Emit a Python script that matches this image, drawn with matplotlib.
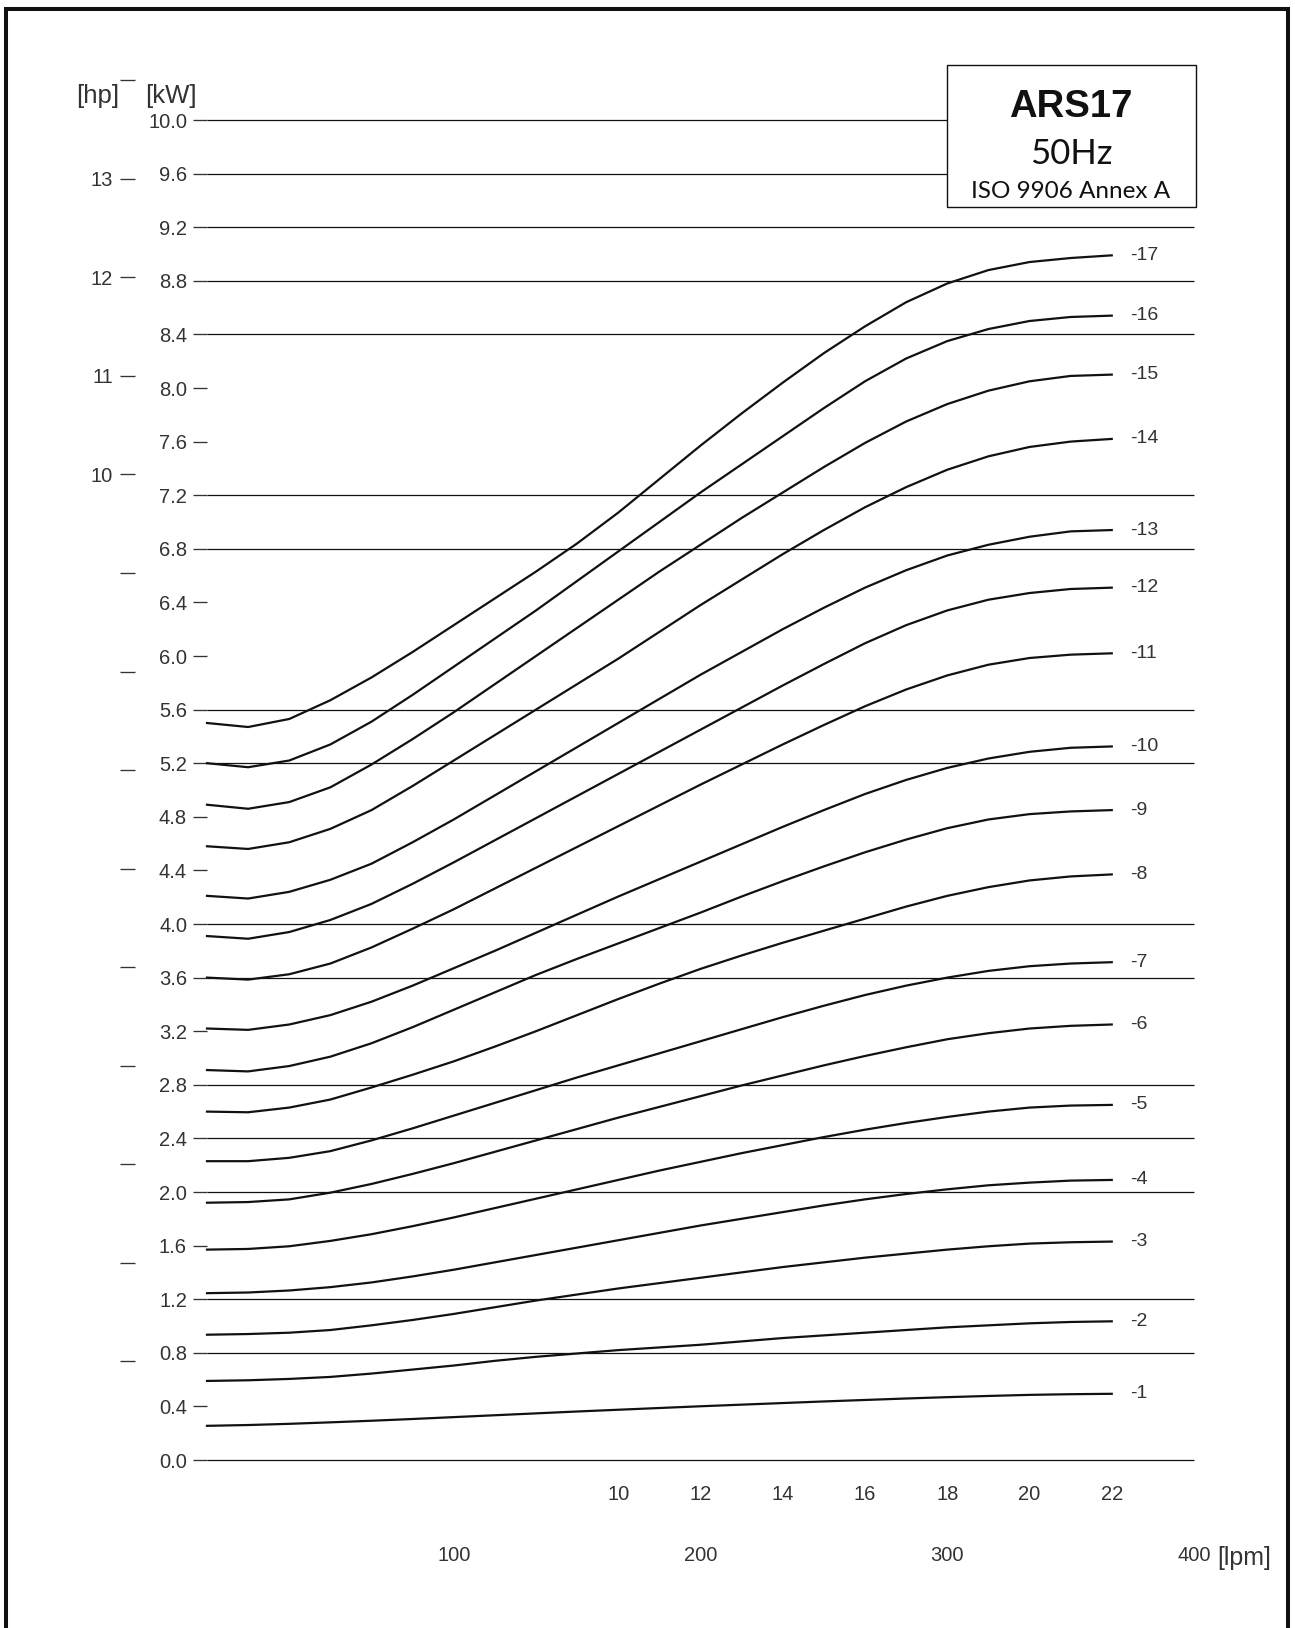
import matplotlib
matplotlib.use('Agg')
import numpy as np
import matplotlib.pyplot as plt
from matplotlib.patches import Rectangle
from matplotlib.lines import Line2D

plt.rcParams['font.family'] = ['Liberation Sans', 'DejaVu Sans']

W, H, DPI = 1295, 1628, 100
KW_PER_HP = 0.7355

# flow [m3/h] where the curves were read
flow_m3h = list(range(0, 23))

# shaft power [kW] per number of stages, read at flow_m3h
p01 = [0.255, 0.261, 0.270, 0.281, 0.293, 0.306, 0.320, 0.334, 0.348, 0.362, 0.375, 0.388,
       0.401, 0.413, 0.425, 0.437, 0.448, 0.459, 0.469, 0.478, 0.486, 0.491, 0.494]
p02 = [0.590, 0.595, 0.605, 0.620, 0.645, 0.675, 0.705, 0.740, 0.770, 0.795, 0.820, 0.840,
       0.860, 0.885, 0.910, 0.930, 0.950, 0.970, 0.990, 1.005, 1.020, 1.030, 1.035]
p03 = [0.935, 0.940, 0.950, 0.970, 1.005, 1.045, 1.090, 1.140, 1.190, 1.235, 1.280, 1.320,
       1.360, 1.400, 1.440, 1.475, 1.510, 1.540, 1.570, 1.595, 1.615, 1.625, 1.630]
p04 = [1.245, 1.250, 1.265, 1.290, 1.325, 1.370, 1.420, 1.475, 1.530, 1.585, 1.640, 1.695,
       1.750, 1.800, 1.850, 1.900, 1.945, 1.985, 2.020, 2.050, 2.070, 2.085, 2.090]
p05 = [1.570, 1.575, 1.595, 1.635, 1.685, 1.745, 1.810, 1.880, 1.950, 2.020, 2.090, 2.160,
       2.225, 2.290, 2.350, 2.410, 2.465, 2.515, 2.560, 2.600, 2.630, 2.645, 2.650]
p06 = [1.920, 1.925, 1.945, 1.995, 2.060, 2.135, 2.215, 2.300, 2.385, 2.470, 2.555, 2.635,
       2.715, 2.795, 2.870, 2.945, 3.015, 3.080, 3.140, 3.185, 3.220, 3.240, 3.250]
p07 = [2.230, 2.230, 2.255, 2.305, 2.385, 2.475, 2.570, 2.665, 2.760, 2.855, 2.945, 3.035,
       3.125, 3.215, 3.305, 3.390, 3.470, 3.540, 3.600, 3.650, 3.685, 3.705, 3.715]
p08 = [2.600, 2.595, 2.630, 2.690, 2.780, 2.875, 2.975, 3.085, 3.200, 3.320, 3.440, 3.555,
       3.665, 3.765, 3.860, 3.950, 4.040, 4.130, 4.210, 4.275, 4.325, 4.355, 4.370]
p09 = [2.910, 2.900, 2.940, 3.010, 3.110, 3.230, 3.360, 3.490, 3.620, 3.740, 3.855, 3.970,
       4.085, 4.205, 4.320, 4.430, 4.535, 4.630, 4.715, 4.780, 4.820, 4.840, 4.850]
p10 = [3.220, 3.210, 3.250, 3.320, 3.420, 3.540, 3.670, 3.800, 3.935, 4.070, 4.205, 4.335,
       4.465, 4.595, 4.725, 4.850, 4.970, 5.075, 5.165, 5.235, 5.285, 5.315, 5.325]
p11 = [3.600, 3.585, 3.625, 3.705, 3.825, 3.965, 4.110, 4.265, 4.420, 4.575, 4.730, 4.885,
       5.040, 5.190, 5.340, 5.485, 5.625, 5.750, 5.855, 5.935, 5.985, 6.010, 6.020]
p12 = [3.910, 3.890, 3.940, 4.030, 4.150, 4.300, 4.460, 4.625, 4.790, 4.955, 5.120, 5.285,
       5.450, 5.615, 5.780, 5.940, 6.095, 6.230, 6.340, 6.420, 6.470, 6.500, 6.510]
p13 = [4.210, 4.190, 4.240, 4.330, 4.450, 4.610, 4.780, 4.960, 5.140, 5.320, 5.500, 5.680,
       5.860, 6.030, 6.200, 6.360, 6.510, 6.640, 6.750, 6.830, 6.890, 6.930, 6.940]
p14 = [4.580, 4.560, 4.610, 4.710, 4.850, 5.030, 5.220, 5.410, 5.600, 5.790, 5.980, 6.180,
       6.380, 6.570, 6.760, 6.940, 7.110, 7.260, 7.390, 7.490, 7.560, 7.600, 7.620]
p15 = [4.890, 4.860, 4.910, 5.020, 5.190, 5.380, 5.580, 5.790, 6.000, 6.210, 6.420, 6.630,
       6.830, 7.030, 7.220, 7.410, 7.590, 7.750, 7.880, 7.980, 8.050, 8.090, 8.100]
p16 = [5.200, 5.170, 5.220, 5.340, 5.510, 5.710, 5.920, 6.130, 6.340, 6.560, 6.780, 7.000,
       7.220, 7.430, 7.640, 7.850, 8.050, 8.220, 8.350, 8.440, 8.500, 8.530, 8.540]
p17 = [5.500, 5.470, 5.530, 5.670, 5.840, 6.030, 6.230, 6.430, 6.630, 6.840, 7.070, 7.320,
       7.570, 7.810, 8.040, 8.260, 8.460, 8.640, 8.780, 8.880, 8.940, 8.970, 8.990]

stages = [p01, p02, p03, p04, p05, p06, p07, p08, p09, p10, p11, p12, p13, p14, p15, p16, p17]

kw_ticks = np.round(np.arange(0, 10.01, 0.4), 1)
kw_grid = [0.0, 0.8, 1.2, 2.0, 2.4, 2.8, 3.6, 4.0, 5.2, 5.6, 6.8, 7.2, 8.4, 8.8, 9.2, 9.6, 10.0]
hp_ticks = list(range(1, 15))
hp_labels = ['10', '11', '12', '13']
m3h_ticks = [10, 12, 14, 16, 18, 20, 22]
lpm_ticks = [100, 200, 300, 400]

GREY = '#333333'
INK = '#111111'
FS = 14.5


def fx(px):
    return px / W


def fy(py):
    return 1 - py / H


fig = plt.figure(figsize=(W / DPI, H / DPI), dpi=DPI)

# main kW axes: x 0..24 m3/h, y 0..10 kW
ax = fig.add_axes([fx(207), fy(1460), (1194 - 207) / W, (1460 - 120) / H])
ax.set_xlim(0, 24)
ax.set_ylim(0, 10)
for s in ax.spines.values():
    s.set_visible(False)

ax.set_yticks(kw_ticks, labels=[f'{v:.1f}' for v in kw_ticks])
ax.tick_params(axis='y', direction='out', length=10.1, width=0.95, color=GREY,
               pad=4.3, labelsize=FS, labelcolor=GREY)
ax.set_xticks(m3h_ticks, labels=[str(v) for v in m3h_ticks])
ax.tick_params(axis='x', length=0, pad=18, labelsize=FS, labelcolor=GREY)

for g in kw_grid:
    ax.axhline(g, color=INK, lw=0.9, zorder=1, clip_on=False, solid_capstyle='butt')

for n, p in enumerate(stages, start=1):
    ax.plot(flow_m3h, p, color=INK, lw=1.6, zorder=3, clip_on=False,
            solid_joinstyle='round')
    ax.text(22.45, p[-1], f'-{n}', ha='left', va='center', fontsize=14, color=GREY)

# second flow scale in l/min
lpm = ax.secondary_xaxis(-0.0619, functions=(lambda q: q * 1000 / 60, lambda l: l * 60 / 1000))
lpm.set_xticks(lpm_ticks, labels=[str(v) for v in lpm_ticks])
lpm.tick_params(length=0, pad=2.5, labelsize=FS, labelcolor=GREY)
for s in lpm.spines.values():
    s.set_visible(False)
fig.text(fx(1217), fy(1558), '[lpm]', ha='left', va='center', fontsize=18, color=GREY)

# hp scale on the far left (metric hp)
hp_h = (1460 - 120) / H * 10.5 / 10
ax_hp = fig.add_axes([fx(135), fy(1460), 1e-4, hp_h])
ax_hp.set_ylim(0, 10.5 / KW_PER_HP)
ax_hp.patch.set_visible(False)
for s in ax_hp.spines.values():
    s.set_visible(False)
ax_hp.set_xticks([])
ax_hp.set_yticks(hp_ticks, labels=[str(t) if str(t) in hp_labels else '' for t in hp_ticks])
ax_hp.tick_params(axis='y', direction='out', length=10.8, width=0.95, color=GREY,
                  pad=5, labelsize=FS, labelcolor=GREY)

fig.text(fx(98), fy(96), '[hp]', ha='center', va='center', fontsize=18.5, color=GREY)
fig.text(fx(171), fy(96), '[kW]', ha='center', va='center', fontsize=18.5, color=GREY)

# title box
box = Rectangle((fx(947), fy(207)), (1196 - 947) / W, (207 - 65) / H, transform=fig.transFigure,
                facecolor='white', edgecolor=INK, lw=1.0, zorder=5)
fig.add_artist(box)
fig.text(fx(1071), fy(107), 'ARS17', ha='center', va='center', fontsize=27.5, fontweight='bold',
         color=INK, zorder=6)
fig.text(fx(1071), fy(154), '50Hz', ha='center', va='center', fontsize=25, family='Lato',
         color=INK, zorder=6)
fig.text(fx(1071), fy(191), 'ISO 9906 Annex A', ha='center', va='center', fontsize=17.5,
         family='Lato', color=INK, zorder=6)

# page frame, open at the bottom
frame = Line2D([fx(6), fx(6), fx(1288), fx(1288)], [0, fy(9), fy(9), 0], transform=fig.transFigure,
               color=INK, lw=2.9, solid_joinstyle='miter')
fig.add_artist(frame)

fig.savefig('out.png', dpi=DPI)
